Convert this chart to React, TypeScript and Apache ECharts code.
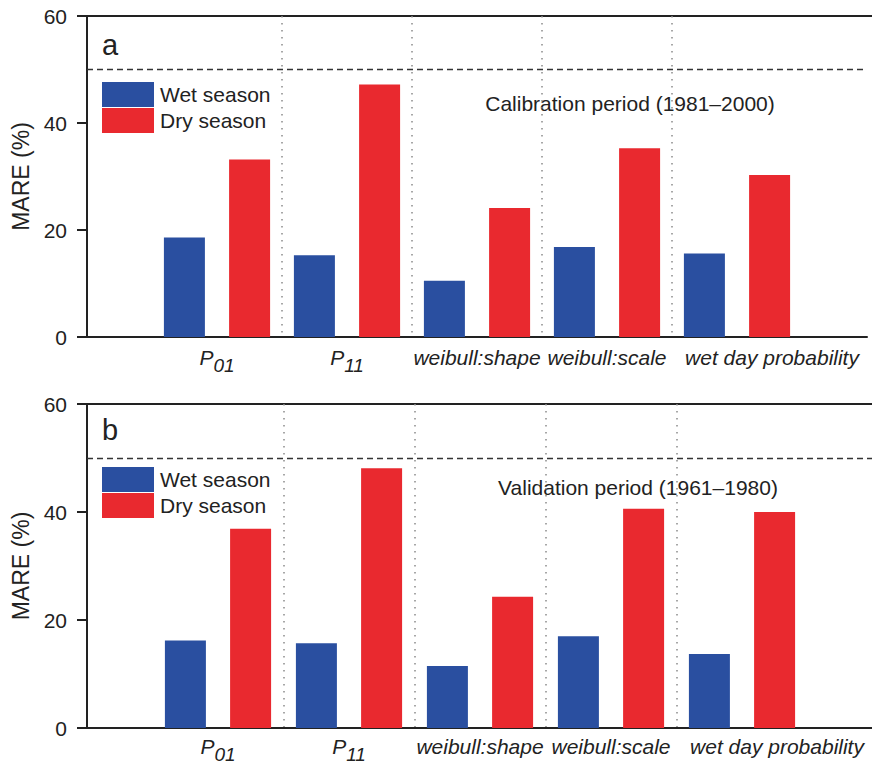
import React, { useEffect, useRef } from "react";
import * as echarts from "echarts";

// Category ticks (empty end slots give the half-band margins either side)
const categories = ["", "P01", "P11", "weibull:shape", "weibull:scale", "wet day probability", ""];

// MARE (%) per parameter
const calibrationWet = [18.6, 15.3, 10.5, 16.8, 15.6];
const calibrationDry = [33.2, 47.2, 24.1, 35.3, 30.3];
const validationWet = [16.2, 15.7, 11.5, 17.0, 13.7];
const validationDry = [36.9, 48.1, 24.3, 40.6, 40.0];

const yTicks = [0, 20, 40, 60];
const threshold = 50;

const panelLetters = ["a", "b"];
const periodNotes = ["Calibration period (1981–2000)", "Validation period (1961–1980)"];
const seriesNames = ["Wet season", "Dry season"];

const BLUE = "#2A4FA0";
const RED = "#E9292F";
const INK = "#222222";
const FONT = "'Liberation Sans', Arial, Helvetica, sans-serif";

const pad = (arr: number[]) => [null, ...arr, null];

// separator slots: half-step ticks between the parameter groups
const halfSlots = Array.from({ length: 13 }, (_, i) => String(i));

export default function App() {
  const ref = useRef<HTMLDivElement>(null);

  useEffect(() => {
    if (!ref.current) return;
    const chart = echarts.init(ref.current, null, { renderer: "svg" });

    const grids = [
      { left: 87, top: 16, width: 780, height: 321 },
      { left: 87, top: 404, width: 786, height: 324 },
    ];

    const labelFormatter = (v: string) => {
      if (v === "P01") return "{p|P}{s|01}";
      if (v === "P11") return "{p|P}{s|11}";
      if (!v) return "";
      if (v === "wet day probability") return "{w|" + v + "}";
      return "{t|" + v + "}";
    };

    const labelBase = { fontStyle: "italic", fontFamily: FONT, color: INK };

    const xAxes: any[] = [];
    const yAxes: any[] = [];
    grids.forEach((_, gi) => {
      xAxes.push({
        type: "category",
        gridIndex: gi,
        data: categories,
        boundaryGap: false,
        axisLine: { lineStyle: { color: INK, width: 2 } },
        axisTick: { show: false },
        splitLine: { show: false },
        axisLabel: {
          interval: 0,
          margin: gi === 0 ? 10 : 8,
          formatter: labelFormatter,
          rich: {
            p: { ...labelBase, fontSize: 21, padding: [0, 0, 8, 0] },
            s: { ...labelBase, fontSize: 19, padding: [8, 0, 0, 0] },
            t: { ...labelBase, fontSize: 21, padding: [0, 0, 8, 0] },
            w: { ...labelBase, fontSize: 21, padding: [0, 0, 8, 70] },
          },
        },
      });
      xAxes.push({
        type: "category",
        gridIndex: gi,
        data: halfSlots,
        boundaryGap: false,
        axisLine: { show: false },
        axisTick: { show: false },
        axisLabel: { show: false },
        splitLine: {
          show: true,
          interval: (i: number) => i === 3 || i === 5 || i === 7 || i === 9,
          lineStyle: { color: "#8a8a8a", width: 1.5, type: [1.5, 5.5] },
        },
      });
      yAxes.push({
        type: "value",
        gridIndex: gi,
        min: yTicks[0],
        max: yTicks[yTicks.length - 1],
        interval: 20,
        name: "MARE (%)",
        nameLocation: "middle",
        nameGap: 52,
        nameTextStyle: { fontSize: 23, color: INK, fontFamily: FONT },
        axisLine: { show: true, lineStyle: { color: INK, width: 2 } },
        axisTick: { show: true, inside: false, length: 10, lineStyle: { color: INK, width: 2 } },
        splitLine: { show: false },
        axisLabel: { fontSize: 21, color: INK, fontFamily: FONT, margin: 20 },
      });
    });

    const panelData = [
      [calibrationWet, calibrationDry],
      [validationWet, validationDry],
    ];

    const series: any[] = [];
    panelData.forEach((pair, gi) => {
      pair.forEach((vals, si) => {
        const s: any = {
          name: seriesNames[si],
          type: "bar",
          xAxisIndex: gi * 2,
          yAxisIndex: gi,
          data: pad(vals),
          barWidth: 41,
          barGap: "59%",
          itemStyle: { color: si === 0 ? BLUE : RED },
        };
        if (si === 0) {
          s.markLine = {
            silent: true,
            symbol: "none",
            label: { show: false },
            lineStyle: { color: "#333", width: 1.3, type: [6, 4] },
            data: [{ yAxis: threshold }],
          };
        }
        series.push(s);
      });
    });

    const legends = grids.map((g, gi) => ({
      orient: "vertical",
      left: 102,
      top: gi === 0 ? 82 : 467,
      padding: 0,
      itemWidth: 52,
      itemHeight: 25,
      itemGap: 1,
      icon: "rect",
      selectedMode: false,
      data: seriesNames,
      textStyle: { fontSize: 21, color: INK, fontFamily: FONT, padding: [0, 0, 0, 1] },
    }));

    const graphics: any[] = [];
    grids.forEach((g, gi) => {
      graphics.push({
        type: "line",
        shape: { x1: g.left - 1, y1: g.top, x2: 872, y2: g.top },
        style: { stroke: INK, lineWidth: 2 },
      });
      graphics.push({
        type: "text",
        left: 102,
        top: g.top + (gi === 0 ? 14 : 11),
        style: { text: panelLetters[gi], fontSize: 29, fill: INK, fontFamily: FONT },
      });
      graphics.push({
        type: "text",
        x: gi === 0 ? 630 : 638,
        y: gi === 0 ? 103 : 487,
        style: {
          text: periodNotes[gi],
          fontSize: 21,
          fill: INK,
          fontFamily: FONT,
          align: "center",
          verticalAlign: "middle",
        },
      });
    });

    chart.setOption({
      animation: false,
      backgroundColor: "#ffffff",
      textStyle: { fontFamily: FONT },
      grid: grids.map((g) => ({ ...g, containLabel: false, outerBoundsMode: "none" })),
      xAxis: xAxes,
      yAxis: yAxes,
      legend: legends,
      series,
      graphic: graphics,
    });

    return () => chart.dispose();
  }, []);

  return (
    <div
      ref={ref}
      style={{ position: "fixed", left: 0, top: 0, width: 872, height: 765, background: "#fff" }}
    />
  );
}
